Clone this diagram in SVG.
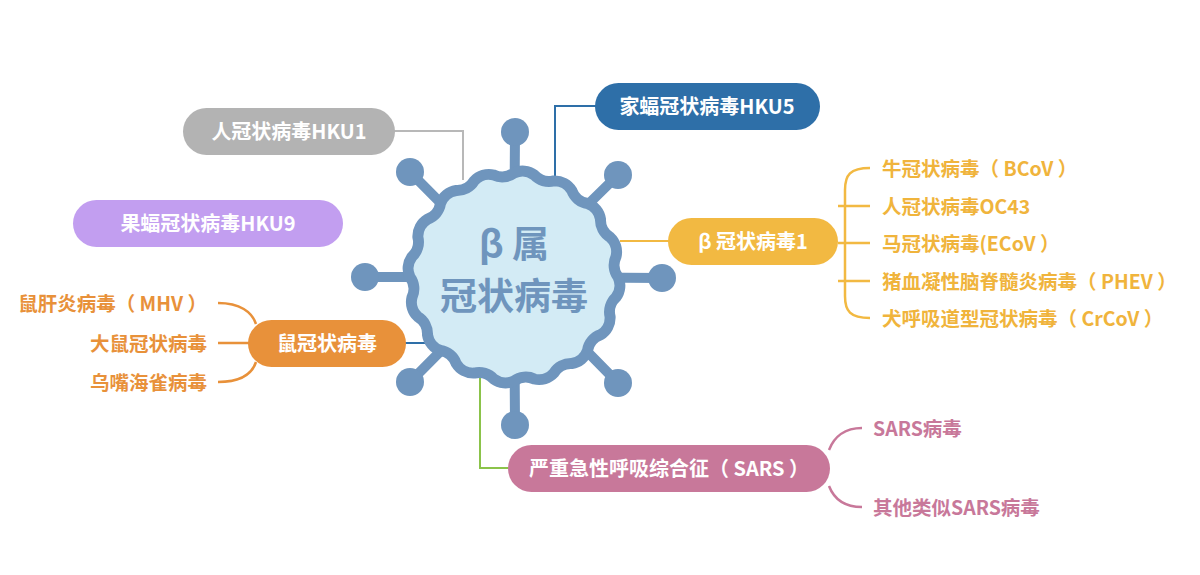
<svg xmlns="http://www.w3.org/2000/svg" width="1200" height="575" viewBox="0 0 1200 575">
<style>
text{font-family:"Noto Sans CJK SC","Liberation Sans",sans-serif;font-weight:bold}
.w{fill:#fff;font-size:20px}
.c{fill:none;stroke-width:2.5}
.sp{stroke:#6f95bd;stroke-width:10;stroke-linecap:round}
.k{fill:#6f95bd}
</style>
<rect width="1200" height="575" fill="#fff"/>
<g id="connectors" fill="none">
<path d="M555,180 V106 H600" stroke="#2e6fa8" stroke-width="2"/>
<path d="M390,131 H463 V180" stroke="#b8b8b8" stroke-width="2"/>
<path d="M620,241 H672" stroke="#f2b942" stroke-width="2"/>
<path d="M400,343 H428" stroke="#2e6fa8" stroke-width="2"/>
<path d="M480,375 V468 H512" stroke="#8bc34a" stroke-width="2"/>
<path class="c" stroke="#f2b942" d="M870,168 C850,168 845,175 845,190 V296 C845,311 850,318 870,318 M838,206 H870 M838,243 H870 M838,281 H870"/>
<path class="c" stroke="#e8913a" d="M218,303 C240,303 252,312 256,324 M256,362 C252,374 240,382 218,382 M250,343 H218"/>
<path class="c" stroke="#c8789a" d="M862,428 C845,428 834,437 829,450 M829,486 C834,499 845,507 862,507"/>
</g>
<g id="center">
<g class="sp">
<line x1="514" y1="277" x2="515" y2="132"/>
<line x1="514" y1="277" x2="410" y2="172"/>
<line x1="514" y1="277" x2="618" y2="175"/>
<line x1="514" y1="277" x2="365" y2="277"/>
<line x1="514" y1="277" x2="662" y2="278"/>
<line x1="514" y1="277" x2="410" y2="382"/>
<line x1="514" y1="277" x2="618" y2="383"/>
<line x1="514" y1="277" x2="515" y2="425"/>
</g>
<g class="k">
<circle cx="515" cy="132" r="14"/><circle cx="410" cy="172" r="14"/><circle cx="618" cy="175" r="14"/>
<circle cx="365" cy="277" r="14"/><circle cx="662" cy="278" r="14"/><circle cx="410" cy="382" r="14"/>
<circle cx="618" cy="383" r="14"/><circle cx="515" cy="425" r="14"/>
</g>
<path fill="#d3ebf5" stroke="#6f95bd" stroke-width="11" d="M618,277 A20,20 0 0 1 616,297.3 A20,20 0 0 0 610.1,316.8 A20,20 0 0 1 600.5,334.8 A20,20 0 0 0 587.5,350.5 A20,20 0 0 1 571.8,363.5 A20,20 0 0 0 553.8,373.1 A20,20 0 0 1 534.3,379 A20,20 0 0 0 514,381 A20,20 0 0 1 493.7,379 A20,20 0 0 0 474.2,373.1 A20,20 0 0 1 456.2,363.5 A20,20 0 0 0 440.5,350.5 A20,20 0 0 1 427.5,334.8 A20,20 0 0 0 417.9,316.8 A20,20 0 0 1 412,297.3 A20,20 0 0 0 410,277 A20,20 0 0 1 412,256.7 A20,20 0 0 0 417.9,237.2 A20,20 0 0 1 427.5,219.2 A20,20 0 0 0 440.5,203.5 A20,20 0 0 1 456.2,190.5 A20,20 0 0 0 474.2,180.9 A20,20 0 0 1 493.7,175 A20,20 0 0 0 514,173 A20,20 0 0 1 534.3,175 A20,20 0 0 0 553.8,180.9 A20,20 0 0 1 571.8,190.5 A20,20 0 0 0 587.5,203.5 A20,20 0 0 1 600.5,219.2 A20,20 0 0 0 610.1,237.2 A20,20 0 0 1 616,256.7 A20,20 0 0 0 618,277 Z"/>
<text x="514" y="258" text-anchor="middle" fill="#6f95bd" font-size="37">β 属</text>
<text x="514" y="310" text-anchor="middle" fill="#6f95bd" font-size="37">冠状病毒</text>
</g>
<g id="hku5"><rect x="595" y="83" width="225" height="47" rx="23.5" fill="#2e6fa8"/><text class="w" x="707" y="114" text-anchor="middle">家蝠冠状病毒HKU5</text></g>
<g id="hku1"><rect x="183" y="108" width="212" height="47" rx="23.5" fill="#b3b3b3"/><text class="w" x="289" y="139" text-anchor="middle">人冠状病毒HKU1</text></g>
<g id="hku9"><rect x="73" y="200" width="270" height="47" rx="23.5" fill="#c29ef0"/><text class="w" x="208" y="231" text-anchor="middle">果蝠冠状病毒HKU9</text></g>
<g id="beta1"><rect x="668" y="218" width="170" height="47" rx="23.5" fill="#f2b942"/><text class="w" x="753" y="249" text-anchor="middle">β 冠状病毒1</text>
<g fill="#f0b43c" font-size="19.5">
<text x="882" y="176">牛冠状病毒（ BCoV ）</text>
<text x="882" y="214">人冠状病毒OC43</text>
<text x="882" y="251">马冠状病毒(ECoV ）</text>
<text x="882" y="289">猪血凝性脑脊髓炎病毒（ PHEV ）</text>
<text x="882" y="326">犬呼吸道型冠状病毒（ CrCoV ）</text>
</g></g>
<g id="mouse"><rect x="248" y="320" width="158" height="47" rx="23.5" fill="#e8913a"/><text class="w" x="327" y="351" text-anchor="middle">鼠冠状病毒</text>
<g fill="#e8913a" font-size="19.5" text-anchor="end">
<text x="207" y="311">鼠肝炎病毒（ MHV ）</text>
<text x="207" y="351">大鼠冠状病毒</text>
<text x="207" y="390">乌嘴海雀病毒</text>
</g></g>
<g id="sars"><rect x="508" y="445" width="322" height="47" rx="23.5" fill="#c8789a"/><text class="w" x="669" y="476" text-anchor="middle">严重急性呼吸综合征（ SARS ）</text>
<g fill="#c8789a" font-size="19.5">
<text x="873" y="436">SARS病毒</text>
<text x="873" y="515">其他类似SARS病毒</text>
</g></g>
</svg>
